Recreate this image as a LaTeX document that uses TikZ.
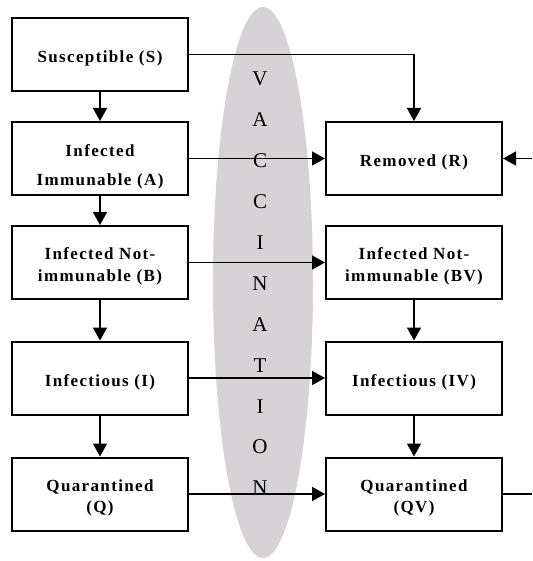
\documentclass[tikz,border=0pt]{standalone}
\usepackage{fontspec}
\setmainfont{Liberation Serif}
\newfontfamily\scatolafont[LetterSpace=8]{Liberation Serif}
\usepackage{tikz}
\usetikzlibrary{
	positioning,    % posizionamento nodi
	arrows.meta     % punte di freccia (Triangle)
}
\definecolor{grigiovacc}{RGB}{214,210,213}
\newcommand{\alzatesto}[1]{\rule{0pt}{#1}}

\begin{document}
\begin{tikzpicture}[
	x=1pt, y=-1pt,
	scatola/.style={draw, line width=2pt, minimum width=176pt, minimum height=73pt,
		inner sep=0pt, align=center,
		font=\scatolafont\bfseries\fontsize{17}{21.5}\selectfont},
	freccia/.style={-{Triangle[length=13pt, width=14pt]}, line width=1.5pt},
	linea/.style={line width=1.5pt},
	lettera/.style={font=\fontsize{21}{24}\selectfont, inner sep=0pt}
	]
	\useasboundingbox (0,0) rectangle (532,561);
	
	% --- Ellisse vaccinazione ---
	\fill[grigiovacc] (263,282.5) ellipse [x radius=50, y radius=275.5];
	\foreach \lettera [count=\i from 0] in {V,A,C,C,I,N,A,T,I,O,N}
		\node[lettera] (vacc\i) at (260,{79+40.9*\i}) {\lettera};
	
	% --- Colonna sinistra ---
	\node[scatola] (S) at (100,54.5) {\alzatesto{20pt}Susceptible (S)};
	\node[scatola] (A) at (100,158.5) {\alzatesto{29pt}Infected\\[8pt]Immunable (A)};
	\node[scatola] (B) at (100,262.5) {\alzatesto{20pt}Infected Not-\\immunable (B)};
	\node[scatola] (I) at (100,378) {\alzatesto{20pt}Infectious (I)};
	\node[scatola] (Q) at (100,494) {\alzatesto{20pt}Quarantined\\(Q)};
	
	% --- Colonna destra ---
	\node[scatola] (R) at (414,158.5) {\alzatesto{20pt}Removed (R)};
	\node[scatola] (BV) at (414,262.5) {\alzatesto{20pt}Infected Not-\\immunable (BV)};
	\node[scatola] (IV) at (414,378) {\alzatesto{20pt}Infectious (IV)};
	\node[scatola] (QV) at (414,494) {\alzatesto{20pt}Quarantined\\(QV)};
	
	% --- Frecce verticali ---
	\draw[freccia] (S) -- (A);
	\draw[freccia] (A) -- (B);
	\draw[freccia] (B) -- (I);
	\draw[freccia] (I) -- (Q);
	\draw[freccia] (BV) -- (IV);
	\draw[freccia] (IV) -- (QV);
	
	% --- Frecce orizzontali ---
	\draw[freccia] (S.east) -| (R.north);
	\draw[freccia] (A) -- (R);
	\draw[freccia] (B) -- (BV);
	\draw[freccia] (I) -- (IV);
	\draw[freccia] (Q) -- (QV);
	
	% --- Ritorno dal bordo destro ---
	\coordinate (bordoR) at (532,158.5);
	\coordinate (bordoQV) at (532,494);
	\draw[freccia] (bordoR) -- (R.east);
	\draw[linea] (QV.east) -- (bordoQV);
	
\end{tikzpicture}
\end{document}
